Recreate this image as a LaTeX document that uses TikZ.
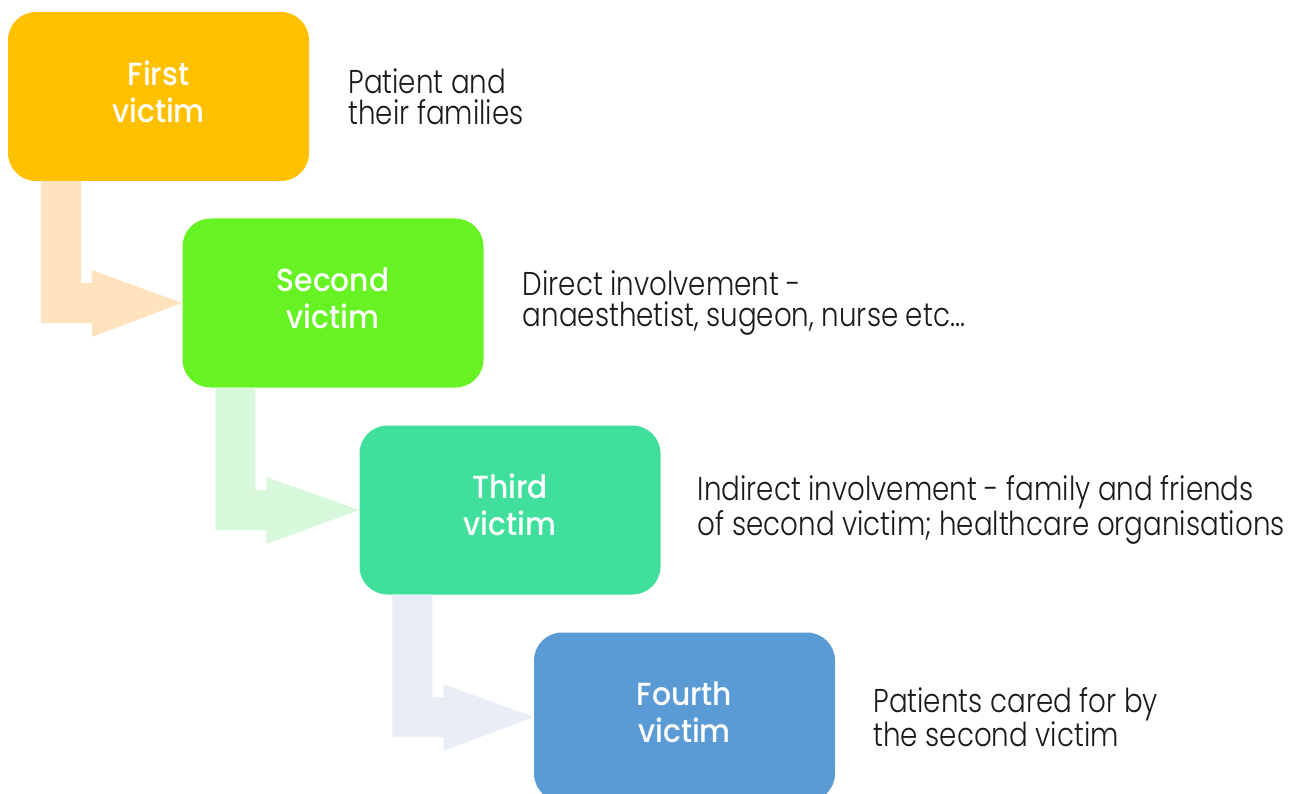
\documentclass[tikz,border=0pt]{standalone}
\usepackage{fontspec}
\setmainfont{Poppins}[UprightFont=* Light, BoldFont=* Medium, FakeStretch=0.84]
\newfontfamily\labfont{Poppins Medium}[FakeStretch=0.93]
\usetikzlibrary{calc}
\definecolor{c1}{HTML}{FFC000}
\definecolor{a1}{HTML}{FFE3BF}
\definecolor{c2}{HTML}{66F223}
\definecolor{a2}{HTML}{D7F8DA}
\definecolor{c3}{HTML}{40E09C}
\definecolor{a3}{HTML}{E9EEF6}
\definecolor{c4}{HTML}{5B9BD5}
\definecolor{txt}{HTML}{1A1A1A}
\newcommand\lab[2]{\raisebox{3.5pt}{\begin{tabular}{@{}c@{}}#1\\#2\end{tabular}}}
\tikzset{
  vbox/.style={rounded corners=28pt, minimum width=301pt, minimum height=169pt, inner sep=0pt,
    text=white, align=center, font=\labfont\fontsize{32}{37}\selectfont},
  desc/.style={anchor=west, inner sep=0pt, align=left, text=txt, font=\fontsize{33}{31.5}\selectfont},
}
\begin{document}
\begin{tikzpicture}[x=1pt,y=-1pt]
\useasboundingbox (0,0) rectangle (1295,794);
\node[vbox, fill=c1] (b1) at (158.5,96.5) {\lab{First}{victim}};
\node[vbox, fill=c2] (b2) at (333,303) {\lab{Second}{victim}};
\node[vbox, fill=c3] (b3) at (510,510) {\lab{Third}{victim}};
\node[vbox, fill=c4] (b4) at (684.5,717) {\lab{Fourth}{victim}};
\node[desc] (d1) at ($(b1.east)+(39,0)$) {Patient and\\their families};
\node[desc] (d2) at ($(b2.east)+(39,0)$) {Direct involvement -\\anaesthetist, sugeon, nurse etc...};
\node[desc] (d3) at ($(b3.east)+(37,0)$) {Indirect involvement - family and friends\\of second victim; healthcare organisations};
\node[desc] (d4) at ($(b4.east)+(38,0)$) {Patients cared for by\\the second victim};
\foreach \s/\t/\c in {b1/b2/a1, b2/b3/a2, b3/b4/a3}{
  \fill[\c] let \p1=(\s.south west), \p2=(\t.west) in
    (\x1+33pt,\y1) -- (\x1+33pt,\y2-20pt) -- (\x1+84pt,\y2-20pt) -- (\x1+84pt,\y2-34pt)
    -- (\p2) -- (\x1+84pt,\y2+33pt) -- (\x1+84pt,\y2+20pt) -- (\x1+73pt,\y2+20pt)
    -- (\x1+73pt,\y1) -- cycle;
}
\end{tikzpicture}
\end{document}
